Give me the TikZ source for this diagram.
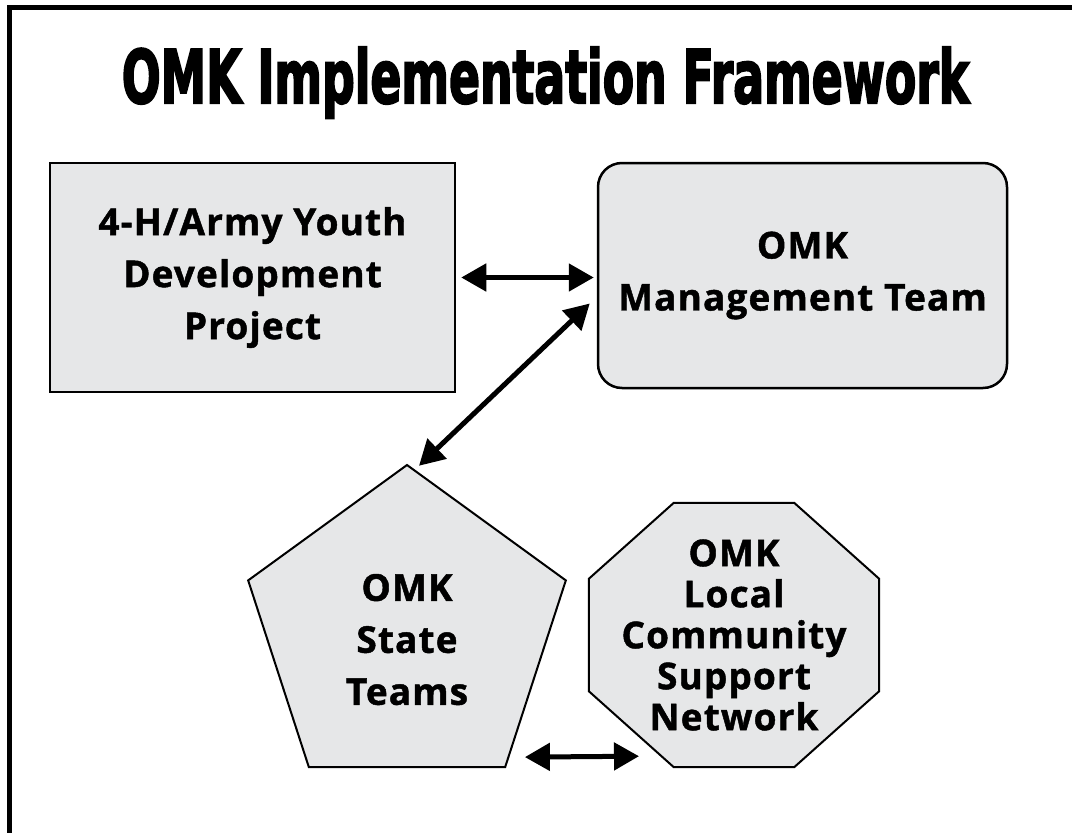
\documentclass[tikz,border=0pt]{standalone}
\usepackage{fontspec}
\setmainfont{Open Sans}[LetterSpace=3, BoldFeatures={FakeBold=1.2}]
\newfontfamily\titlefont{DejaVu Sans Condensed}[BoldFeatures={FakeBold=3}]
\usetikzlibrary{arrows.meta}
\usetikzlibrary{shapes.geometric}
\usetikzlibrary{calc}
\usetikzlibrary{backgrounds}
\definecolor{boxgray}{RGB}{230, 231, 232}
\newcommand\boxfont{\fontsize{37}{52}\selectfont\bfseries}
\newcommand\octfont{\fontsize{37}{41}\selectfont\bfseries}
\tikzset{box/.style = {draw, fill=boxgray, line width=2.5pt, align=center, inner sep=0, font=\boxfont}}
\tikzset{octbox/.style = {rectangle, align=center, inner sep=0, minimum width=290pt, minimum height=264pt, font=\octfont}}
\tikzset{dbl/.style = {line width=5pt, {Triangle[length=25pt, width=27pt]}-{Triangle[length=25pt, width=27pt]}}}

\begin{document}
\begin{tikzpicture}[x=1pt, y=-1pt]
      \useasboundingbox (0, 0) rectangle (1072, 833);
      \draw [line width=5pt] (9.5, 845) -- (9.5, 7.5) -- (1085, 7.5);

      \node [anchor=base, inner sep=0] (title) at (545.5, 103) {\resizebox{847pt}{56pt}{\titlefont\bfseries OMK Implementation Framework}};

      \node [box, minimum width=405pt, minimum height=229pt] (youth) at (252.5, 277.5) {4-H/Army Youth\\Development\\Project};

      \node [box, rounded corners=24pt, minimum width=409pt, minimum height=225pt] (mgmt) at (802.5, 275.5) {OMK\\Management Team};

      \node [box, regular polygon, regular polygon sides=5, minimum size=334pt, line width=2pt] (states) at (407, 632) {\rule{0pt}{42pt}OMK\\State\\Teams};

      \node [octbox] (local) at (734, 635) {OMK\\Local\\Community\\Support\\Network};
      \begin{scope}[on background layer]
        \draw [line width=2pt, fill=boxgray] ($(local.north west)+(85, 0)$) -- ($(local.north east)+(-85, 0)$) -- ($(local.north east)+(0, 76)$) -- ($(local.south east)+(0, -76)$) -- ($(local.south east)+(-85, 0)$) -- ($(local.south west)+(85, 0)$) -- ($(local.south west)+(0, -76)$) -- ($(local.north west)+(0, 76)$) -- cycle;
      \end{scope}

      \draw [dbl, shorten <=5pt, shorten >=3pt] (youth.east) -- (youth.east -| mgmt.west);

      \draw [dbl] ([shift={(12, 2)}]states.corner 1) -- ([shift={(-7, 28)}]mgmt.west);

      \draw [dbl] ([shift={(19, -11)}]states.corner 4) -- ([shift={(-95, -11)}]local.south);
    \end{tikzpicture}
\end{document}
